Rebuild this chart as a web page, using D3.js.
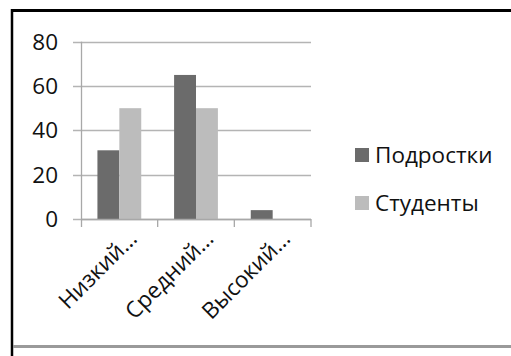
<!DOCTYPE html>
<html>
<head>
<meta charset="utf-8">
<script src="https://cdn.jsdelivr.net/npm/d3@7"></script>
<style>
  html, body { margin: 0; padding: 0; background: #fff; }
  svg { display: block; }
  text { font-family: "Open Sans", sans-serif; fill: #111; }
</style>
</head>
<body>
<svg id="chart" width="511" height="356"></svg>
<script>
// Chart data
const categories = ["Низкий…", "Средний…", "Высокий…"];
const seriesNames = ["Подростки", "Студенты"];
const teens = [31, 65, 4];
const students = [50, 50, 0];
const yTicks = [0, 20, 40, 60, 80];
const seriesColors = ["#6b6b6b", "#bcbcbc"];

const svg = d3.select("#chart");
const W = 511, H = 356;
const fontSize = 22.5;

// Frame lines
svg.append("line").attr("x1", 11).attr("x2", W).attr("y1", 10.5).attr("y2", 10.5)
  .attr("stroke", "#000").attr("stroke-width", 3);
svg.append("line").attr("x1", 12).attr("x2", 12).attr("y1", 9).attr("y2", H)
  .attr("stroke", "#000").attr("stroke-width", 2.5);
svg.append("line").attr("x1", 13).attr("x2", W).attr("y1", 346.5).attr("y2", 346.5)
  .attr("stroke", "#9a9a9a").attr("stroke-width", 3);

// Plot area
const plot = { left: 81, right: 311, top: 41.7, bottom: 219 };

const x = d3.scaleBand().domain(categories).range([plot.left, plot.right]);
const y = d3.scaleLinear().domain([0, 80]).range([plot.bottom, plot.top]);

// Excel-style bar layout: gap width 150% of bar width
const barW = x.bandwidth() / 3.5;
const groupOffset = barW * 0.75;

// Horizontal gridlines with outer tick marks
svg.append("g").selectAll("line").data(yTicks).join("line")
  .attr("x1", plot.left - 8).attr("x2", plot.right)
  .attr("y1", d => Math.round(y(d)) + 0.5).attr("y2", d => Math.round(y(d)) + 0.5)
  .attr("stroke", "#b4b4b4").attr("stroke-width", 1.3);

// Y tick labels
svg.append("g").selectAll("text").data(yTicks).join("text")
  .attr("x", 58).attr("y", d => y(d))
  .attr("dy", "0.35em")
  .attr("text-anchor", "end")
  .attr("font-size", fontSize)
  .text(d => d);

// Bars
const seriesData = [teens, students];
seriesData.forEach((vals, s) => {
  svg.append("g").selectAll("rect").data(vals).join("rect")
    .attr("x", (d, i) => x(categories[i]) + groupOffset + s * barW)
    .attr("y", d => y(d))
    .attr("width", barW)
    .attr("height", d => y(0) - y(d))
    .attr("fill", seriesColors[s]);
});

// Axes lines
svg.append("line").attr("x1", plot.left + 0.5).attr("x2", plot.left + 0.5)
  .attr("y1", plot.top).attr("y2", plot.bottom + 8)
  .attr("stroke", "#a8a8a8").attr("stroke-width", 1.3);
svg.append("line").attr("x1", plot.left).attr("x2", plot.right)
  .attr("y1", Math.round(y(0)) + 0.5).attr("y2", Math.round(y(0)) + 0.5)
  .attr("stroke", "#a8a8a8").attr("stroke-width", 1.3);

// Category boundary ticks
const bounds = categories.map(c => x(c)).concat([plot.right]);
svg.append("g").selectAll("line").data(bounds.slice(1)).join("line")
  .attr("x1", d => d).attr("x2", d => d)
  .attr("y1", plot.bottom).attr("y2", plot.bottom + 8)
  .attr("stroke", "#a8a8a8").attr("stroke-width", 1.3);

// Rotated category labels
svg.append("g").selectAll("text").data(categories).join("text")
  .attr("transform", d => `translate(${x(d) + x.bandwidth() / 2 + 19},${plot.bottom + 21}) rotate(-45)`)
  .attr("text-anchor", "end")
  .attr("font-size", fontSize)
  .text(d => d);

// Legend
const legend = svg.append("g").selectAll("g").data(seriesNames).join("g")
  .attr("transform", (d, i) => `translate(355,${155 + i * 48})`);
legend.append("rect").attr("x", 0).attr("y", -7).attr("width", 14).attr("height", 14)
  .attr("fill", (d, i) => seriesColors[i]);
legend.append("text").attr("x", 20).attr("y", 0).attr("dy", "0.36em")
  .attr("font-size", fontSize)
  .text(d => d);
</script>
</body>
</html>
